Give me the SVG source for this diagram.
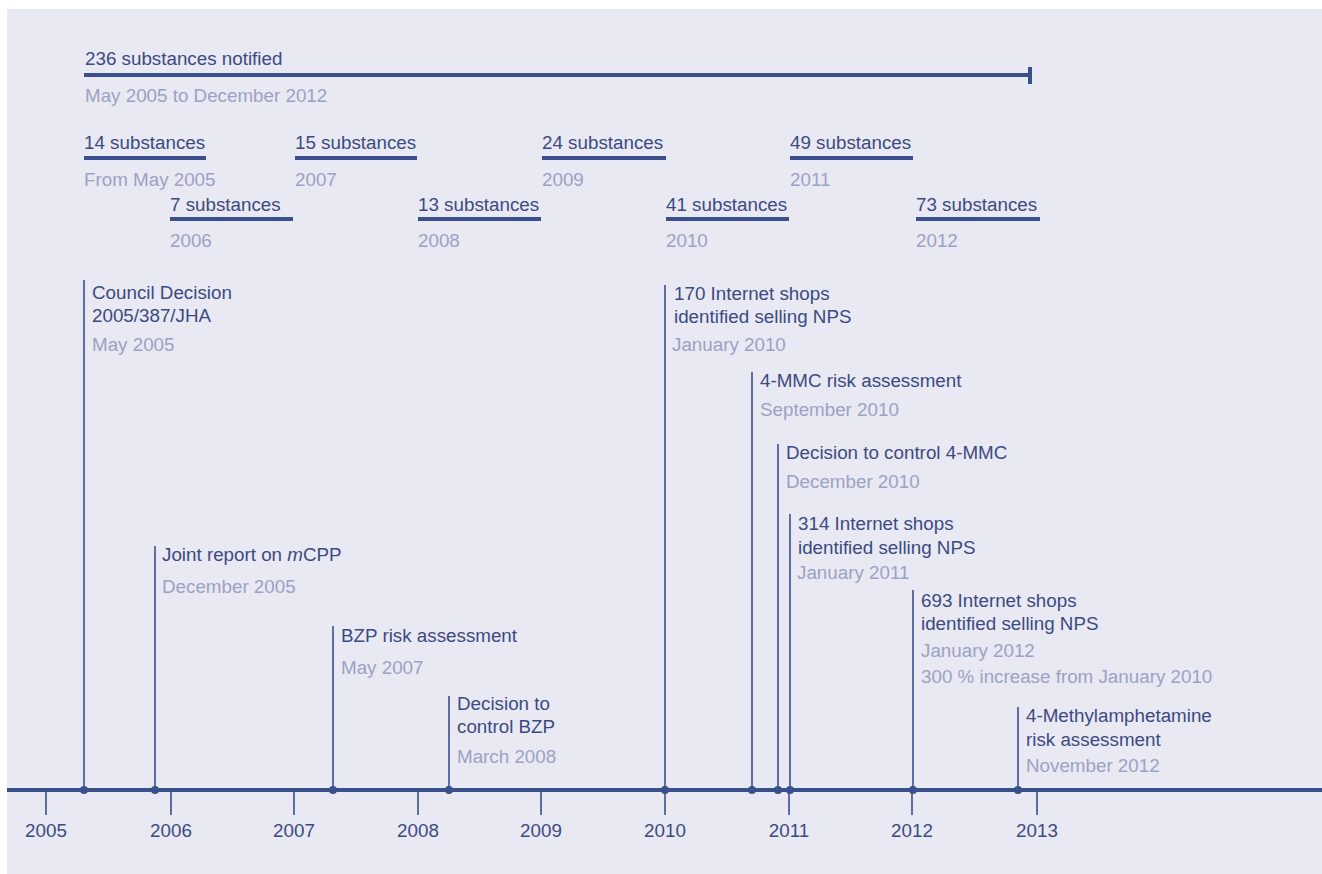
<svg xmlns="http://www.w3.org/2000/svg" width="1322" height="874" viewBox="0 0 1322 874">
<style>
.t{font-family:"Liberation Sans",Arial,sans-serif;font-size:18.8px;fill:#3d4a82}
.g{font-family:"Liberation Sans",Arial,sans-serif;font-size:18.8px;fill:#9ca2c3}
.y{font-family:"Liberation Sans",Arial,sans-serif;font-size:18.8px;fill:#3d4a82;text-anchor:middle}
.bar{stroke:#3b4f8c;stroke-width:4}
.ev{stroke:#3b4f8c;stroke-width:1.6}
.tick{stroke:#3b4f8c;stroke-width:1.6}
.dot{fill:#3b4f8c}
</style>
<rect x="0" y="0" width="1322" height="874" fill="#ffffff"/>
<rect x="7" y="9" width="1315" height="865" fill="#e8e9f2"/>

<g id="total">
<text class="t" x="85" y="65">236 substances notified</text>
<line class="bar" x1="84" y1="75" x2="1030" y2="75"/>
<line class="bar" x1="1030" y1="67" x2="1030" y2="84" stroke-width="2.5"/>
<text class="g" x="85" y="102">May 2005 to December 2012</text>
</g>

<g id="y2005"><text class="t" x="84" y="149">14 substances</text><line class="bar" x1="84" y1="158" x2="206" y2="158"/><text class="g" x="84" y="186">From May 2005</text></g>
<g id="y2007"><text class="t" x="295" y="149">15 substances</text><line class="bar" x1="295" y1="158" x2="417" y2="158"/><text class="g" x="295" y="186">2007</text></g>
<g id="y2009"><text class="t" x="542" y="149">24 substances</text><line class="bar" x1="542" y1="158" x2="666" y2="158"/><text class="g" x="542" y="186">2009</text></g>
<g id="y2011"><text class="t" x="790" y="149">49 substances</text><line class="bar" x1="790" y1="158" x2="913" y2="158"/><text class="g" x="790" y="186">2011</text></g>
<g id="y2006"><text class="t" x="170" y="211">7 substances</text><line class="bar" x1="170" y1="219" x2="293" y2="219"/><text class="g" x="170" y="247">2006</text></g>
<g id="y2008"><text class="t" x="418" y="211">13 substances</text><line class="bar" x1="418" y1="219" x2="541" y2="219"/><text class="g" x="418" y="247">2008</text></g>
<g id="y2010"><text class="t" x="666" y="211">41 substances</text><line class="bar" x1="666" y1="219" x2="789" y2="219"/><text class="g" x="666" y="247">2010</text></g>
<g id="y2012"><text class="t" x="916" y="211">73 substances</text><line class="bar" x1="916" y1="219" x2="1040" y2="219"/><text class="g" x="916" y="247">2012</text></g>

<g id="connectors">
<line class="ev" x1="84" y1="280" x2="84" y2="790"/>
<line class="ev" x1="155" y1="546" x2="155" y2="790"/>
<line class="ev" x1="333" y1="626" x2="333" y2="790"/>
<line class="ev" x1="449" y1="696" x2="449" y2="790"/>
<line class="ev" x1="665" y1="285" x2="665" y2="790"/>
<line class="ev" x1="752" y1="372" x2="752" y2="790"/>
<line class="ev" x1="778" y1="444" x2="778" y2="790"/>
<line class="ev" x1="790" y1="514" x2="790" y2="790"/>
<line class="ev" x1="913" y1="590" x2="913" y2="790"/>
<line class="ev" x1="1018" y1="707" x2="1018" y2="790"/>
</g>

<g id="axis">
<line x1="7" y1="790" x2="1322" y2="790" stroke="#3b4f8c" stroke-width="4"/>
<line class="tick" x1="46" y1="790" x2="46" y2="815"/>
<line class="tick" x1="171" y1="790" x2="171" y2="815"/>
<line class="tick" x1="294" y1="790" x2="294" y2="815"/>
<line class="tick" x1="418" y1="790" x2="418" y2="815"/>
<line class="tick" x1="541" y1="790" x2="541" y2="815"/>
<line class="tick" x1="665" y1="790" x2="665" y2="815"/>
<line class="tick" x1="789" y1="790" x2="789" y2="815"/>
<line class="tick" x1="912" y1="790" x2="912" y2="815"/>
<line class="tick" x1="1037" y1="790" x2="1037" y2="815"/>
<text class="y" x="46" y="837">2005</text>
<text class="y" x="171" y="837">2006</text>
<text class="y" x="294" y="837">2007</text>
<text class="y" x="418" y="837">2008</text>
<text class="y" x="541" y="837">2009</text>
<text class="y" x="665" y="837">2010</text>
<text class="y" x="789" y="837">2011</text>
<text class="y" x="912" y="837">2012</text>
<text class="y" x="1037" y="837">2013</text>
<circle class="dot" cx="84" cy="790" r="4"/>
<circle class="dot" cx="155" cy="790" r="4"/>
<circle class="dot" cx="333" cy="790" r="4"/>
<circle class="dot" cx="449" cy="790" r="4"/>
<circle class="dot" cx="665" cy="790" r="4"/>
<circle class="dot" cx="752" cy="790" r="4"/>
<circle class="dot" cx="778" cy="790" r="4"/>
<circle class="dot" cx="790" cy="790" r="4"/>
<circle class="dot" cx="913" cy="790" r="4"/>
<circle class="dot" cx="1018" cy="790" r="4"/>
</g>

<g id="ev-council"><text class="t" x="92" y="299">Council Decision</text><text class="t" x="92" y="322">2005/387/JHA</text><text class="g" x="92" y="351">May 2005</text></g>
<g id="ev-mcpp"><text class="t" x="162" y="561">Joint report on <tspan font-style="italic">m</tspan>CPP</text><text class="g" x="162" y="593">December 2005</text></g>
<g id="ev-bzp-risk"><text class="t" x="341" y="642">BZP risk assessment</text><text class="g" x="341" y="674">May 2007</text></g>
<g id="ev-bzp-control"><text class="t" x="457" y="710">Decision to</text><text class="t" x="457" y="733">control BZP</text><text class="g" x="457" y="763">March 2008</text></g>
<g id="ev-170"><text class="t" x="674" y="300">170 Internet shops</text><text class="t" x="674" y="323">identified selling NPS</text><text class="g" x="672" y="351">January 2010</text></g>
<g id="ev-4mmc-risk"><text class="t" x="760" y="387">4-MMC risk assessment</text><text class="g" x="760" y="416">September 2010</text></g>
<g id="ev-4mmc-control"><text class="t" x="786" y="459">Decision to control 4-MMC</text><text class="g" x="786" y="488">December 2010</text></g>
<g id="ev-314"><text class="t" x="798" y="530">314 Internet shops</text><text class="t" x="798" y="554">identified selling NPS</text><text class="g" x="797" y="579">January 2011</text></g>
<g id="ev-693"><text class="t" x="921" y="607">693 Internet shops</text><text class="t" x="921" y="630">identified selling NPS</text><text class="g" x="921" y="657">January 2012</text><text class="g" x="921" y="683">300 % increase from January 2010</text></g>
<g id="ev-4ma"><text class="t" x="1026" y="722">4-Methylamphetamine</text><text class="t" x="1026" y="746">risk assessment</text><text class="g" x="1026" y="772">November 2012</text></g>
</svg>
